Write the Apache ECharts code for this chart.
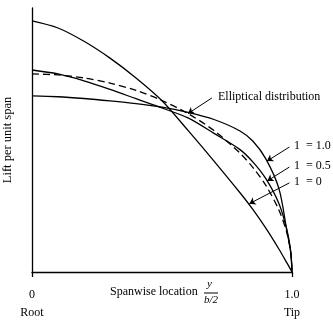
<!DOCTYPE html>
<html><head><meta charset="utf-8">
<script src="https://cdn.jsdelivr.net/npm/echarts@6/dist/echarts.min.js"></script>
<style>html,body{margin:0;padding:0;background:#fff}#c{width:333px;height:322px}</style>
</head><body><div id="c"></div>
<script>
// Spanwise location y/(b/2)
const spanX = [0,0.1,0.2,0.3,0.4,0.5,0.6,0.7,0.8,0.85,0.9,0.95,0.98,0.995,1.0];
// Lift per unit span (normalised so elliptical root = 1)
const liftTaper0   = [1.268,1.232,1.165,1.08,0.98,0.865,0.715,0.56,0.40,0.315,0.22,0.115,0.047,0.012,0];
const liftTaper05  = [1.02,1.0,0.965,0.922,0.875,0.828,0.778,0.70,0.618,0.555,0.47,0.345,0.215,0.105,0];
const liftTaper10  = [0.889,0.885,0.876,0.864,0.85,0.832,0.806,0.77,0.712,0.66,0.57,0.42,0.21,0.1,0];
const liftElliptic = [1.0,0.995,0.98,0.954,0.917,0.866,0.80,0.714,0.60,0.527,0.436,0.312,0.199,0.1,0];
const xTickLabels = {0:'0', 1:'1.0'};
const xTickSubLabels = {0:'Root', 1:'Tip'};
const curveLabels = ['Elliptical distribution','1  = 1.0','1  = 0.5','1  = 0'];
// arrow annotations [from, to] in data units
const arrowFrom = [[0.692,0.879],[0.99,0.631],[0.99,0.53],[0.99,0.45]];
const arrowTo   = [[0.6,0.80],[0.904,0.56],[0.905,0.46],[0.836,0.345]];

const pair = (ys) => spanX.map((x,i)=>[x, ys[i]]);
const font = '"Liberation Serif","DejaVu Serif",serif';
const solid = {color:'#000', width:1.3};
const sm = 0.3;

const chart = echarts.init(document.getElementById('c'), null, {renderer:'canvas'});
chart.setOption({
  animation:false,
  backgroundColor:'#fff',
  grid:{left:32, right:41, top:8, bottom:50, containLabel:false, outerBoundsMode:'none'},
  xAxis:{type:'value', min:0, max:1, interval:1,
    axisLine:{show:true, lineStyle:{color:'#000', width:1.3}},
    axisTick:{show:true, length:5, lineStyle:{color:'#000', width:1.3}},
    splitLine:{show:false},
    axisLabel:{margin:14, fontFamily:font, color:'#000', fontSize:12, lineHeight:18,
      formatter:v=>xTickLabels[v]+'\n'+xTickSubLabels[v]}
  },
  yAxis:{type:'value', min:0, max:1.333,
    axisLine:{show:true, lineStyle:{color:'#000', width:1.3}},
    axisTick:{show:false}, axisLabel:{show:false}, splitLine:{show:false},
    name:'Lift per unit span', nameLocation:'middle', nameRotate:90, nameGap:18,
    nameTextStyle:{fontFamily:font, fontSize:12.5, color:'#000'}
  },
  series:[
    {type:'line', data:pair(liftTaper0), smooth:sm, showSymbol:false, lineStyle:solid},
    {type:'line', data:pair(liftTaper05), smooth:sm, showSymbol:false, lineStyle:solid},
    {type:'line', data:pair(liftTaper10), smooth:sm, showSymbol:false, lineStyle:solid},
    {type:'line', data:pair(liftElliptic), smooth:sm, showSymbol:false,
      lineStyle:{color:'#000', width:1.3, type:[7,4]}},
    {type:'lines', coordinateSystem:'cartesian2d', symbol:['none','arrow'], symbolSize:6,
      lineStyle:{color:'#000', width:1, opacity:1},
      data:arrowFrom.map((f,i)=>({coords:[f, arrowTo[i]]}))}
  ],
  graphic:[
    {type:'text', left:218, top:91, style:{text:curveLabels[0], font:'12px '+font, fill:'#000'}},
    {type:'text', left:294, top:140, style:{text:curveLabels[1], font:'12px '+font, fill:'#000'}},
    {type:'text', left:294, top:160, style:{text:curveLabels[2], font:'12px '+font, fill:'#000'}},
    {type:'text', left:294, top:176, style:{text:curveLabels[3], font:'12px '+font, fill:'#000'}},
    {type:'text', left:110, top:286, style:{text:'Spanwise location', font:'12px '+font, fill:'#000'}},
    {type:'text', left:207, top:279, style:{text:'y', font:'italic 11px '+font, fill:'#000'}},
    {type:'line', shape:{x1:204, y1:293, x2:218, y2:293}, style:{stroke:'#000', lineWidth:1}},
    {type:'text', left:204, top:295, style:{text:'b/2', font:'italic 11px '+font, fill:'#000'}}
  ]
});
</script></body></html>
